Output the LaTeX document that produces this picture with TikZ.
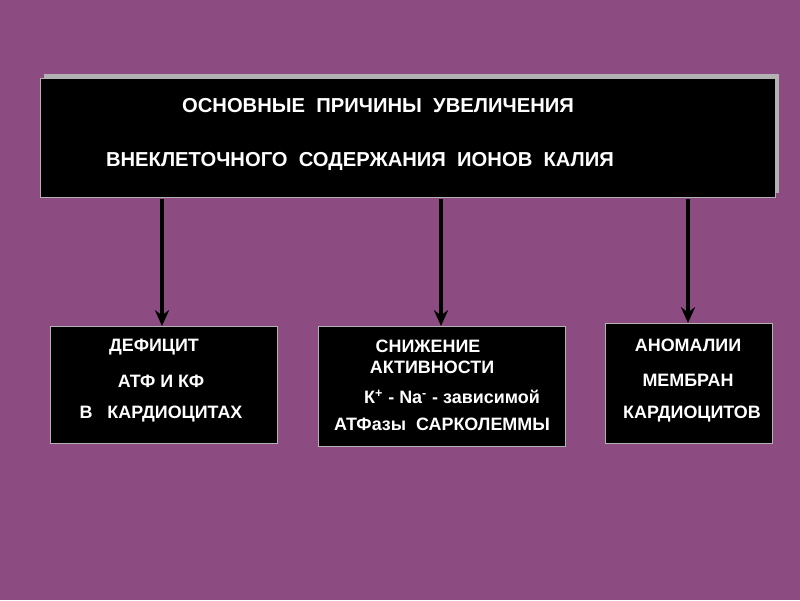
\documentclass[tikz,border=0pt]{standalone}
\usepackage{fontspec}
\setmainfont{Liberation Sans}
\usetikzlibrary{arrows.meta}
\begin{document}
\begin{tikzpicture}[x=0.02cm,y=-0.02cm,
  box/.style={fill=black,draw=white!70!black,line width=0.6pt},
  txt/.style={text=white,font=\bfseries\fontsize{10.2}{12}\selectfont,align=center},
  arr/.style={line width=2.2pt,-{Stealth[length=9pt,width=8pt]}}]
\fill[fill={rgb,255:red,140;green,76;blue,130}] (0,0) rectangle (800,600);
\useasboundingbox (0,0) rectangle (800,600);
\fill[gray!60] (44,74) rectangle (779,193);
\node[box,minimum width=735*0.02cm,minimum height=119*0.02cm,anchor=north west,inner sep=0] (t) at (40,78) {};
\node[txt,font=\bfseries\fontsize{11.5}{13}\selectfont] (t1) at (378,106) {ОСНОВНЫЕ\ \ ПРИЧИНЫ\ \ УВЕЛИЧЕНИЯ};
\node[txt,font=\bfseries\fontsize{11.5}{13}\selectfont] (t2) at (360,161) {ВНЕКЛЕТОЧНОГО\ \ СОДЕРЖАНИЯ\ \ ИОНОВ\ \ КАЛИЯ};
\node[box,minimum width=227*0.02cm,minimum height=117*0.02cm,anchor=north west,inner sep=0] (a) at (50,326) {};
\node[box,minimum width=247*0.02cm,minimum height=120*0.02cm,anchor=north west,inner sep=0] (b) at (318,326) {};
\node[box,minimum width=167*0.02cm,minimum height=120*0.02cm,anchor=north west,inner sep=0] (c) at (605,323) {};
\node[txt] (a1) at (154,347) {ДЕФИЦИТ};
\node[txt] (a2) at (161,381) {АТФ И КФ};
\node[txt] (a3) at (161,414) {В\ \ \ КАРДИОЦИТАХ};
\node[txt] (b1) at (428,346) {СНИЖЕНИЕ};
\node[txt] (b2) at (432,367) {АКТИВНОСТИ};
\node[txt] (b3) at (452,397) {К\textsuperscript{+} - Na\textsuperscript{-} - зависимой};
\node[txt] (b4) at (442,424) {АТФазы\ \ САРКОЛЕММЫ};
\node[txt] (c1) at (688,345) {АНОМАЛИИ};
\node[txt] (c2) at (688,380) {МЕМБРАН};
\node[txt] (c3) at (692,414) {КАРДИОЦИТОВ};
\coordinate (s1) at (162,199); \coordinate (s2) at (441,199); \coordinate (s3) at (688,199);
\draw[arr] (s1) -- (a.north -| s1);
\draw[arr] (s2) -- (b.north -| s2);
\draw[arr] (s3) -- (c.north -| s3);
\end{tikzpicture}
\end{document}
